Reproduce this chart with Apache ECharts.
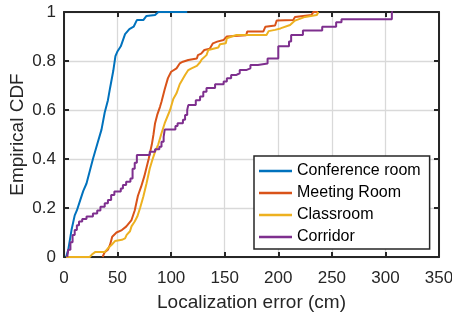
<!DOCTYPE html>
<html>
<head>
<meta charset="utf-8">
<script src="https://cdn.jsdelivr.net/npm/echarts@6/dist/echarts.min.js"></script>
<style>html,body{margin:0;padding:0;background:#fff;}#c{width:452px;height:314px;}</style>
</head>
<body>
<div id="c"></div>
<script>
var seriesNames = ['Conference room', 'Meeting Room', 'Classroom', 'Corridor'];
var xTicks = [0, 50, 100, 150, 200, 250, 300, 350];
var yTicks = [0, 0.2, 0.4, 0.6, 0.8, 1];

var conferenceX = [2, 4, 7, 10, 12, 15, 18, 21, 24, 27, 31, 35, 38, 41, 43, 46, 48, 50, 53, 57, 61, 65, 68, 74, 77, 85, 88, 115];
var conferenceY = [0, 0.03, 0.11, 0.17, 0.19, 0.23, 0.27, 0.30, 0.35, 0.40, 0.46, 0.52, 0.59, 0.64, 0.69, 0.76, 0.82, 0.84, 0.86, 0.91, 0.93, 0.94, 0.967, 0.967, 0.984, 0.988, 1.0, 1.0];

var meetingX = [36, 38, 41, 43, 45, 49, 54, 58, 63, 66, 69, 72, 75, 79, 82, 83.5, 85, 87, 89.6, 91, 94, 97, 100, 105, 108, 111, 116, 124, 125, 128, 131, 136, 139, 143, 149, 152, 170, 171, 186, 188, 197, 198.5, 214, 215.6, 231, 232.7, 237];
var meetingY = [0, 0.02, 0.03, 0.05, 0.083, 0.10, 0.11, 0.124, 0.151, 0.19, 0.25, 0.287, 0.33, 0.40, 0.46, 0.5, 0.546, 0.58, 0.613, 0.634, 0.685, 0.73, 0.756, 0.77, 0.79, 0.797, 0.804, 0.81, 0.824, 0.83, 0.845, 0.85, 0.872, 0.879, 0.886, 0.9, 0.905, 0.92, 0.92, 0.94, 0.945, 0.965, 0.967, 0.98, 0.988, 1.0, 1.0];

var classroomX = [2, 24, 26, 29, 38, 40, 42, 44.5, 47.6, 54, 57, 58.5, 61.6, 63, 66, 68.4, 71, 74, 77, 80, 82, 85, 88, 91, 94, 99, 102, 105, 108, 113, 116, 119, 124, 127, 128.5, 133, 134.7, 144, 145.6, 151, 152, 156.5, 161, 189, 191, 197, 202, 211, 215.6, 225, 236, 237.4];
var classroomY = [0, 0, 0.01, 0.02, 0.02, 0.03, 0.04, 0.05, 0.065, 0.07, 0.076, 0.09, 0.105, 0.125, 0.145, 0.165, 0.2, 0.246, 0.30, 0.36, 0.39, 0.43, 0.46, 0.505, 0.546, 0.6, 0.645, 0.668, 0.705, 0.743, 0.763, 0.77, 0.78, 0.795, 0.806, 0.824, 0.845, 0.855, 0.868, 0.872, 0.893, 0.9, 0.906, 0.906, 0.922, 0.927, 0.933, 0.947, 0.965, 0.98, 0.988, 1.0];

var corridorX = [3, 4, 6, 8, 10, 12, 14, 17, 21, 27, 31, 34, 38, 41, 44, 47, 53, 55, 58, 62, 64, 66, 68, 80, 85, 89, 91, 93, 94, 104, 106, 111, 113, 115, 116, 123, 127, 130, 133, 141, 149, 152, 156, 161, 164, 170, 174, 181, 190, 200, 210, 212, 223, 241, 254, 259, 306, 307];
var corridorY = [0, 0.03, 0.06, 0.09, 0.11, 0.13, 0.145, 0.155, 0.165, 0.178, 0.19, 0.205, 0.219, 0.233, 0.253, 0.267, 0.28, 0.294, 0.307, 0.32, 0.36, 0.385, 0.416, 0.43, 0.44, 0.45, 0.47, 0.49, 0.52, 0.535, 0.546, 0.56, 0.58, 0.6, 0.62, 0.64, 0.655, 0.675, 0.69, 0.705, 0.716, 0.73, 0.743, 0.75, 0.763, 0.77, 0.784, 0.79, 0.81, 0.86, 0.88, 0.906, 0.925, 0.94, 0.958, 0.97, 1.0, 1.0];

function pairs(xs, ys) { return xs.map(function (x, i) { return [x, ys[i]]; }); }

var colors = ['#0072BD', '#D95319', '#EDB120', '#7E2F8E'];
var FONT = 'Liberation Sans, Arial, Helvetica, sans-serif';
var AX = '#262626';

var chart = echarts.init(document.getElementById('c'), null, { renderer: 'canvas' });
var baseLine = { type: 'line', showSymbol: false, symbol: 'none', lineStyle: { width: 2 }, animation: false };

chart.setOption({
  animation: false,
  color: colors,
  textStyle: { fontFamily: FONT },
  grid: { left: 64, right: 13, top: 12, bottom: 57, containLabel: false, outerBoundsMode: 'none' },
  xAxis: [{
    type: 'value', min: xTicks[0], max: xTicks[xTicks.length - 1], interval: 50,
    name: 'Localization error (cm)', nameLocation: 'middle', nameGap: 36, nameMoveOverlap: false,
    nameTextStyle: { fontSize: 19, color: AX, fontFamily: FONT },
    axisLine: { show: true, onZero: false, lineStyle: { color: AX, width: 2 } },
    axisTick: { show: true, inside: true, length: 5, lineStyle: { color: AX, width: 2 } },
    axisLabel: { fontSize: 17, color: AX, margin: 13, fontFamily: FONT },
    splitLine: { show: true, lineStyle: { color: '#d9d9d9', width: 1.3 } }
  }, {
    type: 'value', position: 'top', min: xTicks[0], max: xTicks[xTicks.length - 1], interval: 50,
    axisLine: { show: true, onZero: false, lineStyle: { color: AX, width: 2 } },
    axisTick: { show: true, inside: true, length: 5, lineStyle: { color: AX, width: 2 } },
    axisLabel: { show: false }, splitLine: { show: false }
  }],
  yAxis: [{
    type: 'value', min: 0, max: 1, interval: 0.2,
    name: 'Empirical CDF', nameLocation: 'middle', nameGap: 37, nameMoveOverlap: false,
    nameTextStyle: { fontSize: 19, color: AX, fontFamily: FONT },
    axisLine: { show: true, onZero: false, lineStyle: { color: AX, width: 2 } },
    axisTick: { show: true, inside: true, length: 5, lineStyle: { color: AX, width: 2 } },
    axisLabel: { fontSize: 17, color: AX, margin: 8, fontFamily: FONT,
      formatter: function (v) { return String(Math.round(v * 10) / 10); } },
    splitLine: { show: true, lineStyle: { color: '#d9d9d9', width: 1.3 } }
  }, {
    type: 'value', position: 'right', min: 0, max: 1, interval: 0.2,
    axisLine: { show: true, onZero: false, lineStyle: { color: AX, width: 2 } },
    axisTick: { show: true, inside: true, length: 5, lineStyle: { color: AX, width: 2 } },
    axisLabel: { show: false }, splitLine: { show: false }
  }],
  legend: {
    data: seriesNames,
    orient: 'vertical', left: 254, top: 156,
    backgroundColor: '#fff', borderColor: AX, borderWidth: 1.5, borderRadius: 0,
    padding: [6, 9, 3, 5],
    itemWidth: 33, itemHeight: 2.5, itemGap: 4, icon: 'rect',
    textStyle: { fontSize: 16, color: '#000', fontFamily: FONT, lineHeight: 18 }
  },
  series: [
    Object.assign({}, baseLine, { name: seriesNames[0], data: pairs(conferenceX, conferenceY), z: 2 }),
    Object.assign({}, baseLine, { name: seriesNames[1], data: pairs(meetingX, meetingY), z: 3 }),
    Object.assign({}, baseLine, { name: seriesNames[2], data: pairs(classroomX, classroomY), z: 4 }),
    Object.assign({}, baseLine, { name: seriesNames[3], data: pairs(corridorX, corridorY), step: 'end', z: 5 })
  ]
});
</script>
</body>
</html>
